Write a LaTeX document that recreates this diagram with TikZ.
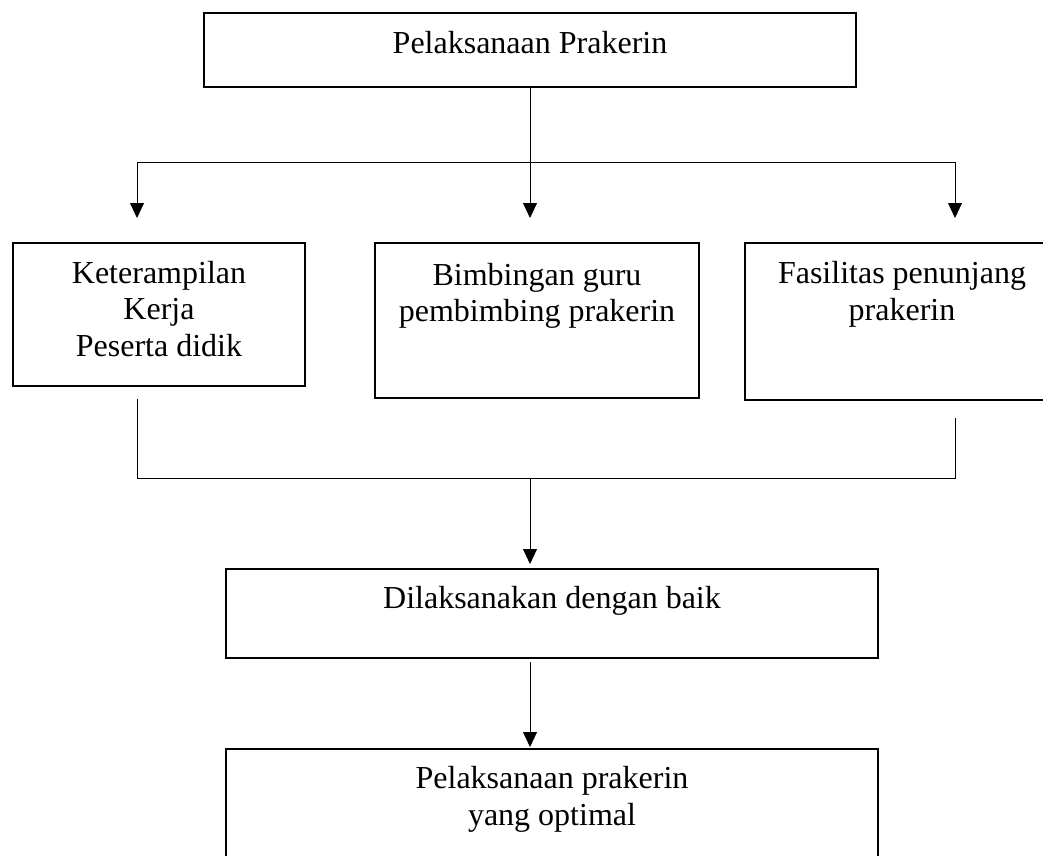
\documentclass[tikz,border=0pt]{standalone}
\usepackage{fontspec}
\setmainfont{Liberation Serif}
\usetikzlibrary{arrows.meta,positioning}
\newcommand{\pxu}{0.375pt}

\begin{document}
\begin{tikzpicture}[
    x = \pxu, y = -\pxu, % one unit is one pixel of the page
    > = {Triangle[length=5.6pt, width=5.2pt]}, % arrow head style
    line width = 0.35pt, % line style
    ]

    \tikzset{
    box/.style = {draw = black, line width = 0.5pt, inner sep = 0pt},
    txt/.style = {inner sep = 0pt, align = center, font = \fontsize{12}{13.8}\selectfont}
    }

    \useasboundingbox (0,0) rectangle (1043,855);

    % boxes
    \node[box, minimum width=652*\pxu, minimum height=74*\pxu] (prakerin) at (530,50) {};
    \node[box, minimum width=292*\pxu, minimum height=143*\pxu] (terampil) at (159,314.5) {};
    \node[box, minimum width=324*\pxu, minimum height=155*\pxu] (bimbingan) at (537,320.5) {};
    \node[box, minimum width=314*\pxu, minimum height=157*\pxu] (fasilitas) at (902,321.5) {};
    \node[box, minimum width=652*\pxu, minimum height=89*\pxu] (baik) at (552,613.5) {};
    \node[box, minimum width=652*\pxu, minimum height=131*\pxu] (optimal) at (552,814.5) {};

    % texts
    \node[txt, below=6.75pt of prakerin.north] {Pelaksanaan Prakerin};
    \node[txt, below=6.75pt of terampil.north] {Keterampilan\\Kerja\\Peserta didik};
    \node[txt, below=7.5pt of bimbingan.north] {Bimbingan guru\\pembimbing prakerin};
    \node[txt, below=7pt of fasilitas.north] {Fasilitas penunjang\\prakerin};
    \node[txt, below=6.5pt of baik.north] {Dilaksanakan dengan baik};
    \node[txt, below=6.5pt of optimal.north] {Pelaksanaan prakerin\\yang optimal};

    % fork below the first box
    \coordinate (fork) at (530,162);
    \coordinate (fork-l) at (137,162);
    \coordinate (fork-r) at (955,162);
    \coordinate (tip-l) at (137,218);
    \coordinate (tip-m) at (530,218);
    \coordinate (tip-r) at (955,218);

    \draw (prakerin.south) -- (fork);
    \draw (fork-l) -- (fork-r);
    \draw[->] (fork-l) -- (tip-l);
    \draw[->] (fork) -- (tip-m);
    \draw[->] (fork-r) -- (tip-r);

    % join below the three boxes
    \coordinate (from-l) at (137,399);
    \coordinate (from-r) at (955,418);
    \coordinate (join-l) at (137,478);
    \coordinate (join-r) at (955,478);
    \coordinate (join) at (530,478);
    \coordinate (tip-baik) at (530,564);
    \coordinate (from-baik) at (530,662);
    \coordinate (tip-optimal) at (530,747);

    \draw (from-l) -- (join-l) -- (join-r) -- (from-r);
    \draw[->] (join) -- (tip-baik);
    \draw[->] (from-baik) -- (tip-optimal);
\end{tikzpicture}
\end{document}
